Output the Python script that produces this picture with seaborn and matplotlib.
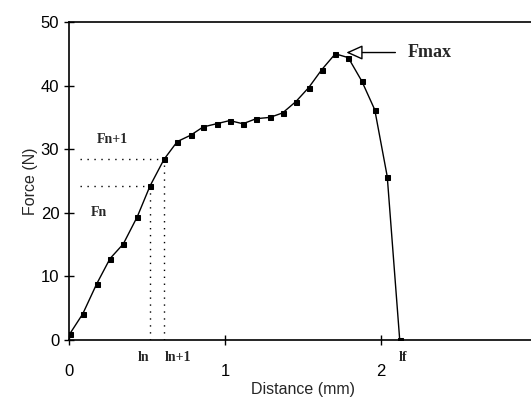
import matplotlib
matplotlib.use("Agg")
import matplotlib.pyplot as plt
import seaborn as sns
import pandas as pd

distance = [0.006, 0.088, 0.177, 0.263, 0.348, 0.438, 0.519, 0.609, 0.694, 0.78, 0.86,
            0.946, 1.03, 1.115, 1.2, 1.288, 1.369, 1.455, 1.537, 1.62, 1.707, 1.79,
            1.877, 1.96, 2.04, 2.12]
force = [1.0, 4.1, 8.8, 12.8, 15.1, 19.4, 24.2, 28.4, 31.2, 32.2, 33.5,
         34.0, 34.5, 34.0, 34.8, 35.0, 35.7, 37.5, 39.7, 42.5, 45.0, 44.4,
         40.7, 36.2, 25.7, 0.0]
x_ticks = [0, 1, 2, 3]
y_ticks = [0, 10, 20, 30, 40, 50]

df = pd.DataFrame({"Distance": distance, "Force": force})

sns.set_style("ticks")
plt.rcParams['font.family'] = ['Liberation Sans', 'DejaVu Sans']

fig = plt.figure(figsize=(5.31, 4.05), dpi=100)
ax = fig.add_axes([69/531, 65/405, (537-69)/531, 318/405])

sns.lineplot(data=df, x="Distance", y="Force", ax=ax, color="black", lw=1.0,
             marker="s", markersize=3.6, markeredgecolor="black", markerfacecolor="black")

# dotted construction lines
i_n, i_n1 = 6, 7
dot = dict(color="black", lw=1.0, linestyle=(0, (1, 4)))
ax.plot([0.07, distance[i_n]], [force[i_n], force[i_n]], **dot)
ax.plot([0.07, distance[i_n1]], [force[i_n1], force[i_n1]], **dot)
ax.plot([distance[i_n], distance[i_n]], [0, force[i_n] - 1], **dot)
ax.plot([distance[i_n1], distance[i_n1]], [0, force[i_n1]], **dot)

serif_b = dict(family=['Liberation Serif', 'DejaVu Serif'], fontweight='bold')
ax.text(0.28, 31.6, "Fn+1", ha="center", va="center", fontsize=10, **serif_b)
ax.text(0.19, 20.1, "Fn", ha="center", va="center", fontsize=10, **serif_b)
ax.text(0.48, -1.8, "ln", ha="center", va="top", fontsize=10, **serif_b)
ax.text(0.70, -1.8, "ln+1", ha="center", va="top", fontsize=10, **serif_b)
ax.text(2.14, -1.8, "lf", ha="center", va="top", fontsize=10, **serif_b)

ax.annotate("", xy=(1.76, 45.2), xytext=(2.11, 45.2),
            arrowprops=dict(arrowstyle="-|>,head_length=1.0,head_width=0.45",
                            facecolor="white", edgecolor="black", lw=1.0))
ax.text(2.17, 45.2, "Fmax", ha="left", va="center", fontsize=13, **serif_b)

ax.set_xlim(0, 3)
ax.set_ylim(0, 50)
ax.set_xticks(x_ticks)
ax.set_yticks(y_ticks)
ax.tick_params(direction="inout", length=7, width=1, labelsize=12, colors="black")
ax.tick_params(axis="x", pad=14)
ax.set_xlabel("Distance (mm)", fontsize=11.5, labelpad=2)
ax.set_ylabel("Force (N)", fontsize=11.5, labelpad=2)
for s in ["left", "bottom", "top", "right"]:
    ax.spines[s].set_visible(True)
    ax.spines[s].set_color("black")
    ax.spines[s].set_linewidth(1.2)

fig.savefig("out.png", dpi=100)
